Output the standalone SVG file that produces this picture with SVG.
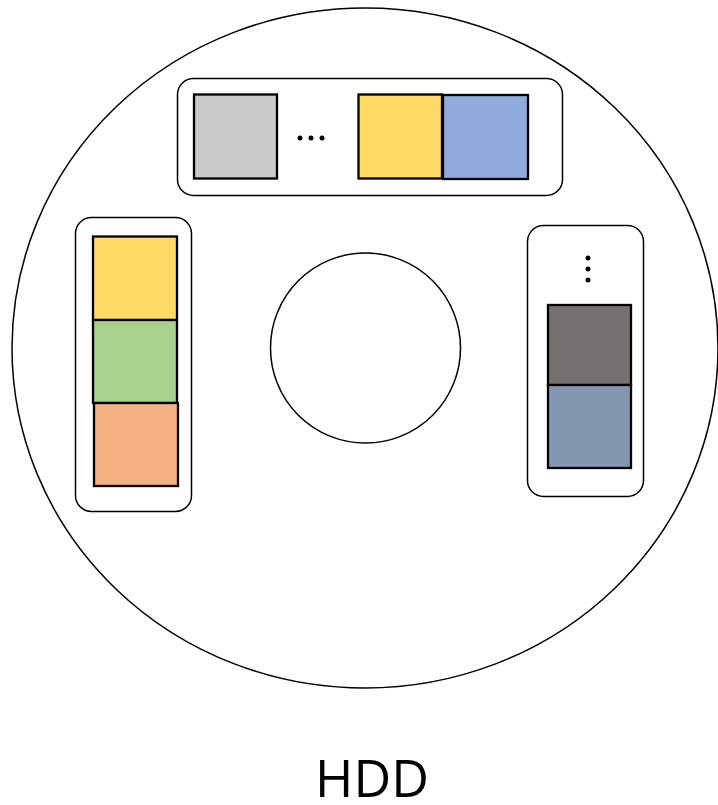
<svg xmlns="http://www.w3.org/2000/svg" width="718" height="805" viewBox="0 0 718 805">
<style>
.disk{fill:#fff;stroke:#000;stroke-width:1.5}
.box{fill:#fff;stroke:#000;stroke-width:1.5}
.blk{stroke:#000;stroke-width:2.3}
.dot{fill:#000}
.lbl{font-family:"Open Sans","DejaVu Sans",sans-serif;font-size:52px;fill:#000}
</style>
<g id="disk">
<ellipse class="disk" cx="365" cy="348" rx="353" ry="340"/>
<circle class="disk" cx="365.5" cy="348" r="95"/>
</g>
<g id="top-group">
<rect class="box" x="177.5" y="78.5" width="385" height="117" rx="16"/>
<rect class="blk" x="194" y="94.5" width="83" height="84" fill="#C9C9C9"/>
<circle class="dot" cx="300" cy="138" r="2.5"/>
<circle class="dot" cx="311" cy="138" r="2.5"/>
<circle class="dot" cx="322" cy="138" r="2.5"/>
<rect class="blk" x="358.5" y="94.5" width="83.5" height="84" fill="#FFD966"/>
<rect class="blk" x="443" y="95" width="85" height="84" fill="#8FAADC"/>
</g>
<g id="left-group">
<rect class="box" x="75.5" y="217.5" width="116" height="294" rx="16"/>
<rect class="blk" x="93" y="236.5" width="84" height="83.5" fill="#FFD966"/>
<rect class="blk" x="93" y="320" width="84" height="83" fill="#A9D18E"/>
<rect class="blk" x="94" y="403" width="84" height="83" fill="#F4B183"/>
</g>
<g id="right-group">
<rect class="box" x="527.5" y="225.5" width="116" height="271" rx="16"/>
<circle class="dot" cx="588" cy="258" r="2.5"/>
<circle class="dot" cx="588" cy="269" r="2.5"/>
<circle class="dot" cx="588" cy="280" r="2.5"/>
<rect class="blk" x="548" y="305" width="83" height="80" fill="#767171"/>
<rect class="blk" x="548" y="385" width="83" height="83" fill="#8497B0"/>
</g>
<g id="label">
<text class="lbl" x="372" y="797" text-anchor="middle">HDD</text>
</g>
<g id="connectors"/>
</svg>
